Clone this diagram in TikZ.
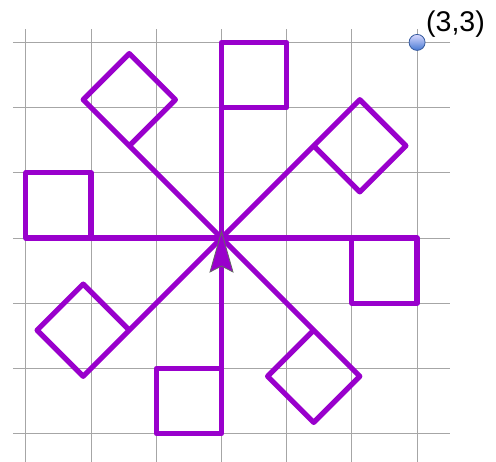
\documentclass[tikz,border=0pt]{standalone}
\usepackage{fontspec}
\setmainfont{Liberation Sans}
\definecolor{flagpurple}{RGB}{153,0,204}
\definecolor{dotblue}{RGB}{70,120,210}
\begin{document}
\begin{tikzpicture}[x=65.2pt,y=65.2pt,
  flagline/.style={draw=flagpurple, line width=5.2pt, line join=round},
  gridline/.style={draw=black!35, line width=0.9pt},
  turtle/.style={draw=black!60, fill=flagpurple, line width=0.8pt, line join=miter},
  dotstyle/.style={circle, minimum size=16pt, inner sep=0pt, draw=dotblue!75!black, line width=0.8pt, top color=blue!15!white, bottom color=dotblue},
  lblstyle/.style={anchor=base west, inner sep=0pt, font=\fontsize{28.5}{30}\selectfont}]
\useasboundingbox (-221.5pt,-224pt) rectangle (274.5pt,238pt);
% grid
\foreach \i in {-3,...,3} {
  \draw[gridline] (\i,-3.5) -- (\i,3.2);
  \draw[gridline] (-3.2,\i) -- (3.5,\i);
}
% flags
\foreach \a in {0,45,...,315} {
  \begin{scope}[rotate=\a]
    \coordinate (c0) at (0,0);
    \coordinate (c1) at (0,3);
    \coordinate (c2) at (1,3);
    \coordinate (c3) at (1,2);
    \coordinate (c4) at (0,2);
    \draw[flagline] (c0) -- (c1) -- (c2) -- (c3) -- (c4);
  \end{scope}
}
% turtle
\coordinate (tip) at (0pt,6.3pt);
\coordinate (tr) at (11.5pt,-34pt);
\coordinate (tn) at (0pt,-28pt);
\coordinate (tl) at (-11.5pt,-34pt);
\draw[turtle] (tip) -- (tr) -- (tn) -- (tl) -- cycle;
% point
\node[dotstyle] (pt) at (3,3) {};
\node[lblstyle] (lbl) at (204.5pt,206pt) {(3,3)};
\end{tikzpicture}
\end{document}
